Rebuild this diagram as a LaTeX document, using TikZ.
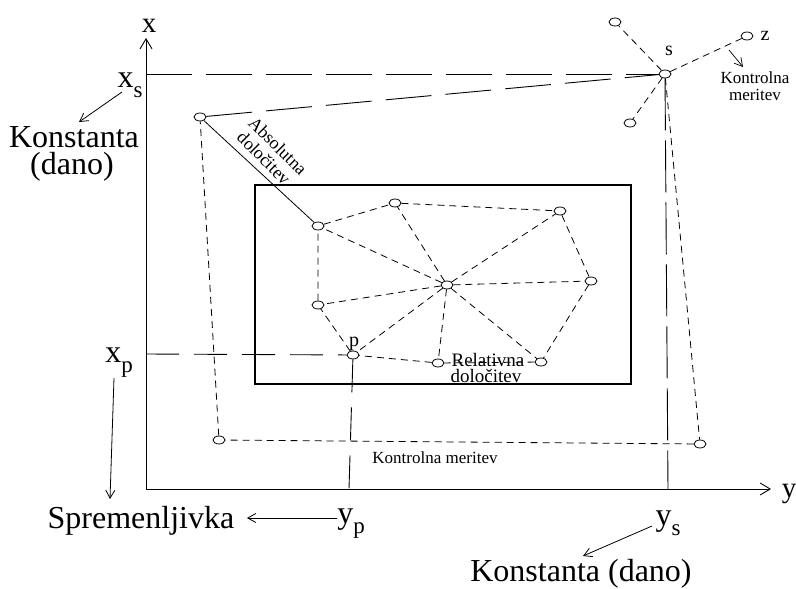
\documentclass[tikz,border=0pt]{standalone}
\usepackage{fontspec}
\setmainfont{Liberation Serif}
\usetikzlibrary{shapes.geometric,arrows.meta}
\newcommand{\lowsub}[1]{\raisebox{-0.32em}{\fontsize{23}{23}\selectfont #1}}
\begin{document}
\begin{tikzpicture}[x=1pt,y=-1pt,
  line width=0.9pt,
  pt/.style={draw, ellipse, minimum width=12pt, minimum height=8pt, inner sep=0pt, line width=0.8pt},
  sdash/.style={dash pattern=on 7pt off 5pt, line width=0.8pt},
  ldash/.style={dash pattern=on 46pt off 14pt, line width=0.9pt},
  pdash/.style={dash pattern=on 33pt off 15pt, line width=0.9pt},
  tip/.style={-{Straight Barb[length=10pt,width=12pt]}},
  smalltip/.style={-{Straight Barb[length=8pt,width=9pt]}},
  big/.style={font=\fontsize{32}{27}\selectfont, inner sep=0pt},
  mid/.style={font=\fontsize{20}{20}\selectfont, inner sep=0pt},
  small/.style={font=\fontsize{17}{17}\selectfont, inner sep=0pt, align=center}]
\useasboundingbox (0,0) rectangle (796,589);

% axes
\coordinate (O) at (146,489);
\coordinate (xend) at (146,38);
\coordinate (yend) at (771,489);
\draw[tip] (O) -- (xend);
\draw[tip] (O) -- (yend);
\node[font=\fontsize{29}{29}\selectfont, inner sep=0pt, anchor=base] (xlab) at (149,32) {x};
\node[font=\fontsize{29}{29}\selectfont, inner sep=0pt, anchor=base] (ylab) at (789,497) {y};

% control points
\node[pt] (A) at (200,117) {};
\node[pt] (S) at (665,74) {};
\node[pt] (B) at (700,444) {};
\node[pt] (C) at (219,440) {};
\node[pt] (S1) at (615,22) {};
\node[pt] (S2) at (630,123) {};
\node[pt] (Z) at (747,36) {};

% working area
\node[draw, line width=2.5pt, minimum width=376pt, minimum height=199pt, inner sep=0pt] (frame) at (443,284.5) {};

% network points
\node[pt] (P1) at (318,226) {};
\node[pt] (P2) at (395,203) {};
\node[pt] (P3) at (560,211) {};
\node[pt] (P4) at (591,281) {};
\node[pt] (M) at (447,285) {};
\node[pt] (P5) at (318,305) {};
\node[pt] (P) at (353,355) {};
\node[pt] (P6) at (438,363) {};
\node[pt] (P7) at (541,362) {};

% coordinate projections
\coordinate (xs) at (146,74);
\coordinate (ys) at (668,489);
\coordinate (xp) at (146,354);
\coordinate (yp) at (349,489);
\draw[ldash] (xs) -- (S);
\draw[ldash, dash pattern=on 52pt off 10pt] (S) -- (ys);
\draw[pdash] (xp) -- (P);
\draw[pdash] (P) -- (yp);

% control measurements
\draw[ldash] (A) -- (S);
\draw[sdash] (S) -- (B) -- (C) -- (A);
\draw[sdash] (S) -- (S1);
\draw[sdash] (S) -- (S2);
\draw[sdash] (S) -- (Z);

% absolute determination
\draw[line width=0.8pt] (A) -- (P1);
\node[font=\fontsize{18}{18}\selectfont, inner sep=0pt, rotate=-45] (abs1) at (278,146) {Absolutna};
\node[font=\fontsize{18}{18}\selectfont, inner sep=0pt, rotate=-45] (abs2) at (264,158) {dolo\v{c}itev};

% relative network
\draw[sdash] (P1) -- (P2) -- (P3) -- (P4) -- (P7) -- (P6) -- (P) -- (P5) -- (P1);
\foreach \n in {P1,P2,P3,P4,P5,P,P6,P7} \draw[sdash] (M) -- (\n);
\node[font=\fontsize{19}{19}\selectfont, inner sep=0pt, anchor=base] (rel1) at (488,366) {Relativna};
\node[font=\fontsize{19}{19}\selectfont, inner sep=0pt, anchor=base] (rel2) at (486,382) {dolo\v{c}itev};

% point labels
\node[mid, anchor=base] (plab) at (354,346) {p};
\node[mid, anchor=base] (slab) at (669,56) {s};
\node[mid, anchor=base] (zlab) at (765,41) {z};
\node[small, anchor=base] (kontr1) at (755,83) {Kontrolna};
\node[small, anchor=base] (kontr2) at (755,100) {meritev};
\draw[line width=0.7pt, smalltip] (729,50) -- (743,67);
\node[small, anchor=base] (kontr3) at (435,463) {Kontrolna meritev};

% given and unknown coordinates
\node[big, anchor=base] (xsl) at (130,87) {x\lowsub{s}};
\node[big, anchor=base] (konst1a) at (74,147) {Konstanta};
\node[big, anchor=base] (konst1b) at (72,174) {(dano)};
\draw[line width=0.8pt, smalltip] (122,92) -- (79,122);

\node[big, anchor=base] (xpl) at (119,362) {x\lowsub{p}};
\node[big, anchor=base] (sprem) at (141,528) {Spremenljivka};
\draw[line width=0.8pt, smalltip] (114,378) -- (110,499);

\node[big, anchor=base] (ypl) at (351,523) {y\lowsub{p}};
\draw[line width=0.8pt, smalltip] (337,518) -- (247,518);

\node[big, anchor=base] (ysl) at (668,525) {y\lowsub{s}};
\node[big, anchor=base] (konst2) at (581,581) {Konstanta (dano)};
\draw[line width=0.8pt, smalltip] (652,526) -- (583,556);
\end{tikzpicture}
\end{document}
